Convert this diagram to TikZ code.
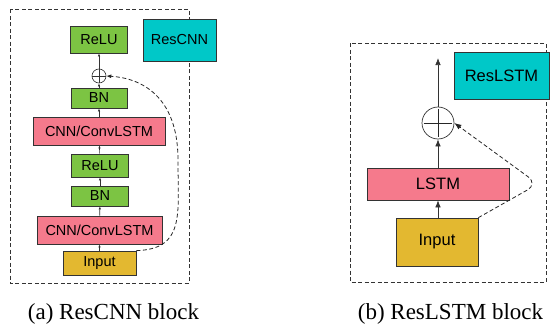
\documentclass[tikz,border=0pt]{standalone}
\usepackage{fontspec}
\setmainfont{Liberation Serif}
\newfontfamily\boxfont{Liberation Sans}
\usetikzlibrary{arrows.meta}

\definecolor{layergreen}{HTML}{7CC443}
\definecolor{layerpink}{HTML}{F57A8C}
\definecolor{layercyan}{HTML}{00C8C8}
\definecolor{layergold}{HTML}{E3B830}

\begin{document}
\begin{tikzpicture}[x=1pt,y=-1pt,
    layer/.style={draw=black!80,line width=0.7pt,inner sep=0pt,font=\boxfont\fontsize{14.5}{16}\selectfont},
    biglayer/.style={layer,font=\boxfont\fontsize{16.5}{18}\selectfont},
    flow/.style={-{Latex[length=3pt,width=2.4pt]},line width=0.6pt,black!80},
    bigflow/.style={-{Latex[length=7pt,width=5.5pt]},line width=0.7pt,black!80},
    skip/.style={dash pattern=on 4pt off 2.5pt,line width=0.8pt,black!85},
    blockbox/.style={dash pattern=on 4pt off 2.5pt,line width=0.8pt,black!80},
    caption/.style={anchor=base,font=\fontsize{23}{27}\selectfont}]
    \useasboundingbox (0,0) rectangle (550,324);

    % (a) ResCNN block
    \draw[blockbox] (10,9) rectangle (189,283);
    \node[layer,fill=layercyan,minimum width=73pt,minimum height=42pt] (rescnn) at (179.5,40) {ResCNN};
    \node[layer,fill=layergreen,minimum width=57pt,minimum height=27pt] (relua) at (99,39.5) {ReLU};
    \node[draw=black!80,line width=0.6pt,circle,minimum size=14pt,inner sep=0pt] (plusa) at (99,76) {};
    \draw[line width=0.6pt,black!80] (plusa.north) -- (plusa.south) (plusa.west) -- (plusa.east);
    \node[layer,fill=layergreen,minimum width=56pt,minimum height=20pt] (bna) at (99,98) {BN};
    \node[layer,fill=layerpink,minimum width=132pt,minimum height=28pt] (cnna) at (99,131) {CNN/ConvLSTM};
    \node[layer,fill=layergreen,minimum width=57pt,minimum height=23pt] (relub) at (100,165.5) {ReLU};
    \node[layer,fill=layergreen,minimum width=57pt,minimum height=20pt] (bnb) at (100,196) {BN};
    \node[layer,fill=layerpink,minimum width=125pt,minimum height=28pt] (cnnb) at (99.5,230) {CNN/ConvLSTM};
    \node[layer,fill=layergold,minimum width=73pt,minimum height=24pt] (inputa) at (99.5,263) {Input};

    \draw[flow] (inputa) -- (cnnb);
    \draw[flow] (cnnb) -- (bnb);
    \draw[flow] (bnb) -- (relub);
    \draw[flow] (relub) -- (cnna);
    \draw[flow] (cnna) -- (bna);
    \draw[flow] (bna) -- (plusa);
    \draw[flow] (plusa) -- (relua);
    \draw[skip,-{Latex[length=5pt,width=4pt]}] (inputa.north east)
      .. controls (185,249) and (178,215) .. (178,160)
      .. controls (178,95) and (140,78) .. (plusa.east);

    \node[caption] (capa) at (113.5,319) {(a) ResCNN block};

    % (b) ResLSTM block
    \draw[blockbox] (350,43) rectangle (546,282);
    \node[biglayer,fill=layercyan,minimum width=95pt,minimum height=47pt] (reslstm) at (501.5,75.5) {ResLSTM};
    \node[draw=black!80,line width=0.7pt,circle,minimum size=32pt,inner sep=0pt] (plusb) at (438,123) {};
    \draw[line width=0.8pt,black!85] ([yshift=-2pt]plusb.north) -- ([yshift=2pt]plusb.south)
      ([xshift=2pt]plusb.west) -- ([xshift=-2pt]plusb.east);
    \node[biglayer,fill=layerpink,minimum width=142pt,minimum height=32pt] (lstm) at (438,184) {LSTM};
    \node[biglayer,fill=layergold,minimum width=82pt,minimum height=48pt] (inputb) at (437,242) {Input};
    \coordinate (outb) at (438,58);

    \draw[bigflow] (inputb.north -| lstm.south) -- (lstm.south);
    \draw[bigflow] (lstm) -- (plusb);
    \draw[bigflow] (plusb) -- (outb);
    \draw[skip,rounded corners=12pt,-{Latex[length=7pt,width=5.5pt]}] (inputb.north east)
      -- (538,184) -- (plusb.east);

    \node[caption] (capb) at (450.5,319) {(b) ResLSTM block};
\end{tikzpicture}
\end{document}
